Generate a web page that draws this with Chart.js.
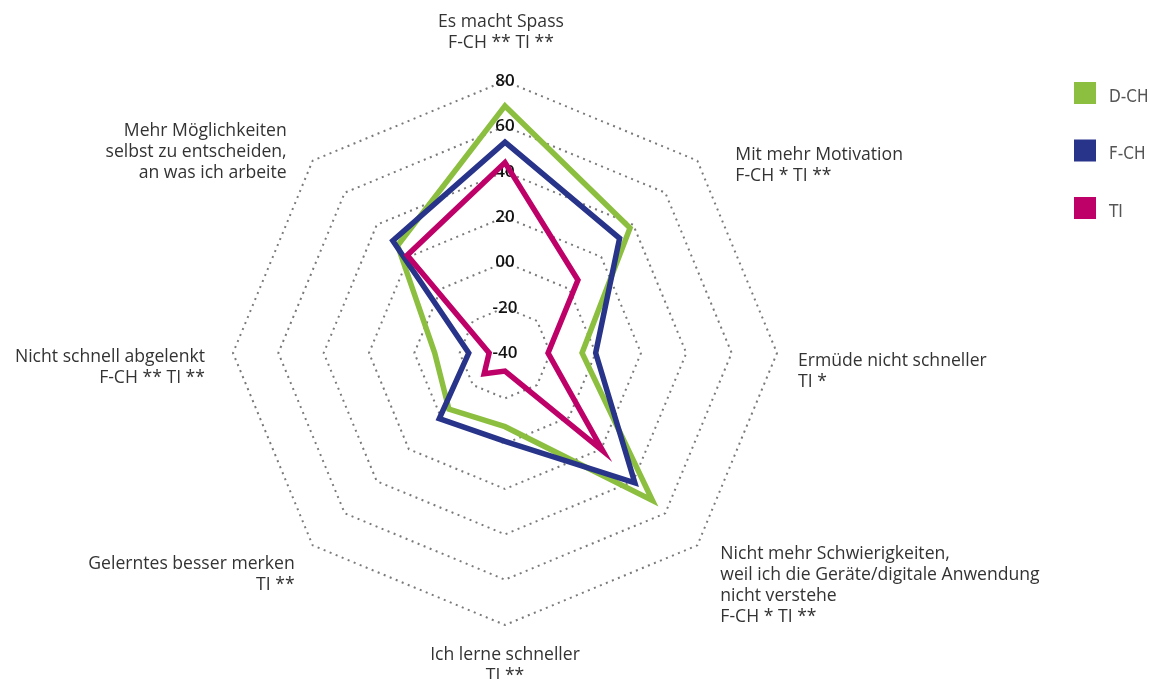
<!DOCTYPE html>
<html>
<head>
<meta charset="utf-8">
<script src="https://cdn.jsdelivr.net/npm/chart.js@4/dist/chart.umd.min.js"></script>
<style>
  html, body { margin: 0; padding: 0; background: #fff; }
  #wrap { width: 1150px; height: 679px; position: relative; }
</style>
</head>
<body>
<div id="wrap"><canvas id="c" width="1150" height="679"></canvas></div>
<script>
// ---- data ----
const categories = [
  ["Es macht Spass", "F-CH ** TI **"],
  ["Mit mehr Motivation", "F-CH * TI **"],
  ["Ermüde nicht schneller", "TI *"],
  ["Nicht mehr Schwierigkeiten,", "weil ich die Geräte/digitale Anwendung", "nicht verstehe", "F-CH * TI **"],
  ["Ich lerne schneller", "TI **"],
  ["Gelerntes besser merken", "TI **"],
  ["Nicht schnell abgelenkt", "F-CH ** TI **"],
  ["Mehr Möglichkeiten", "selbst zu entscheiden,", "an was ich arbeite"]
];
const seriesNames = ["D-CH", "F-CH", "TI"];
const dchValues = [69, 38, -6, 52, -7.5, -5, -9, 27];
const fchValues = [53, 31.5, 0, 41, -1, 1, -24, 30];
const tiValues  = [44, 5.5, -21, 21, -32, -27, -33, 21];
const tickValues = [-40, -20, 0, 20, 40, 60, 80];
const tickLabels = ["-40", "-20", "00", "20", "40", "60", "80"];

// ---- styles ----
const colors = ["#8cbf3f", "#28338a", "#be0069"];
// label placement relative to each axis end: [dx, dy of first line, align]
const labelPlacement = [
  [-4, -59.5, "center"],
  [38, -5.5, "left"],
  [21, 8, "left"],
  [23, 8.5, "left"],
  [0, 30, "center"],
  [-18, 18.5, "right"],
  [-28, 3.5, "right"],
  [-26, -30, "right"]
];
const lineGap = 21;

const labelsPlugin = {
  id: "customLabels",
  afterDraw(chart) {
    const ctx = chart.ctx;
    const scale = chart.scales.r;
    ctx.save();
    ctx.font = "17.6px 'Open Sans'";
    ctx.fillStyle = "#333";
    ctx.textBaseline = "middle";
    chart.data.labels.forEach((lines, i) => {
      const p = scale.getPointPosition(i, scale.drawingArea);
      const [dx, dy, align] = labelPlacement[i];
      ctx.textAlign = align;
      lines.forEach((t, k) => {
        ctx.fillText(t, p.x + dx, p.y + dy + k * lineGap);
      });
    });
    // legend
    ctx.font = "17px 'Liberation Sans Narrow', 'DejaVu Sans Condensed', sans-serif";
    ctx.textAlign = "left";
    chart.data.datasets.forEach((ds, i) => {
      const y = 82 + i * 57.5;
      ctx.fillStyle = ds.borderColor;
      ctx.fillRect(1074, y, 22, 22);
      ctx.fillStyle = "#555";
      ctx.fillText(ds.label, 1109, y + 15.5);
    });
    ctx.restore();
  }
};

new Chart(document.getElementById("c"), {
  type: "radar",
  data: {
    labels: categories,
    datasets: [
      { label: seriesNames[0], data: dchValues, borderColor: colors[0], order: 3 },
      { label: seriesNames[1], data: fchValues, borderColor: colors[1], order: 2 },
      { label: seriesNames[2], data: tiValues, borderColor: colors[2], order: 1 }
    ]
  },
  options: {
    responsive: false,
    animation: false,
    layout: { padding: { left: 225, right: 364, top: 73, bottom: 45 } },
    elements: {
      line: { borderWidth: 5.5, fill: false, tension: 0, borderJoinStyle: "miter" },
      point: { radius: 0, hoverRadius: 0 }
    },
    plugins: { legend: { display: false }, tooltip: { enabled: false } },
    scales: {
      r: {
        min: -40,
        max: 80,
        angleLines: { display: false },
        pointLabels: { display: false },
        grid: { color: "#7a7a7a", lineWidth: 2 },
        border: { dash: [2, 4.5] },
        ticks: {
          stepSize: 20,
          showLabelBackdrop: false,
          backdropPadding: 0,
          color: "#111",
          font: { family: "'Open Sans'", size: 17, weight: "600" },
          callback: (v) => {
            const idx = tickValues.indexOf(v);
            return idx >= 0 ? tickLabels[idx] : "";
          }
        }
      }
    }
  },
  plugins: [labelsPlugin]
});
</script>
</body>
</html>
